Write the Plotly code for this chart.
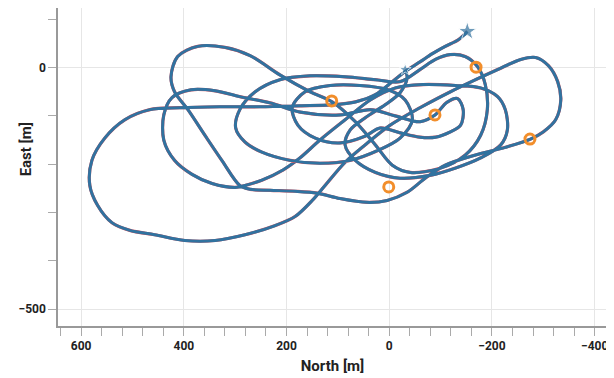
import plotly.graph_objects as go

# Trajectory (North, East) in metres
north = [-152, -135, -109, -84, -60, -31, -6, 27, 66, 111, 174, 252, 330, 408, 466, 515, 554, 579, 583, 568,
         540, 505, 457, 398, 339, 281, 222, 183, 150, 125, 86, 47, -2, -60, -119, -168, -211, -256, -285, -310,
         -328, -334, -324, -300, -275, -226, -168, -109, -70, -35, 4, 43, 96, 140, 183, 232, 271, 291, 326, 359,
         392, 418, 425, 412, 373, 320, 271, 213, 154, 111, 66, 27, -6, -41, -100, -148, -178, -191, -187, -172,
         -148, -119, -90, -60, -21, 27, 86, 154, 213, 261, 291, 299, 281, 248, 193, 135, 76, 21, -21, -45,
         -31, 2, 57, 115, 164, 189, 178, 144, 96, 47, 18, -21, -60, -90, -119, -139, -144, -133, -112, -89,
         -60, -12, 37, 96, 174, 232, 291, 339, 386, 423, 439, 439, 418, 384, 345, 300, 281, 248, 207, 174, 135,
         86, 37, -12, -66, -129, -178, -211, -226, -230, -217, -178, -129, -80, -21, 27, 66, 86, 76, 47, 8,
         -21, -35, -31]
east = [75, 58, 44, 29, 12, -8, -29, -56, -71, -77, -79, -81, -81, -83, -87, -108, -146, -192, -244, -285,
        -321, -337, -346, -358, -358, -346, -327, -308, -275, -244, -196, -160, -119, -83, -50, -25, -4, 17, 21, 4,
        -29, -67, -108, -133, -148, -165, -181, -202, -229, -258, -275, -279, -271, -260, -256, -254, -252, -244, -192, -140,
        -87, -50, -19, 23, 44, 42, 25, -15, -50, -71, -112, -160, -202, -217, -208, -181, -140, -87, -35, 2,
        23, 27, 17, -4, -29, -25, -19, -17, -25, -50, -87, -125, -154, -175, -192, -198, -192, -171, -146, -108,
        -67, -46, -37, -37, -50, -83, -119, -146, -156, -142, -125, -135, -144, -144, -133, -119, -87, -64, -72, -98,
        -112, -100, -87, -98, -92, -73, -60, -48, -46, -62, -98, -150, -192, -221, -240, -248, -244, -233, -212, -187, -150,
        -108, -67, -42, -35, -37, -42, -60, -87, -129, -160, -187, -208, -223, -229, -217, -192, -160, -129, -104, -77,
        -52, -21, -4]

# Waypoints
wp_north = [112, -89, -169, -274, 1]
wp_east = [-69, -98, 1, -148, -247]

fig = go.Figure()

fig.add_trace(go.Scatter(x=north, y=east, mode="lines",
                         line=dict(color="#d9545c", width=3.2, shape="spline", smoothing=0.9),
                         hoverinfo="skip", showlegend=False))
fig.add_trace(go.Scatter(x=north, y=east, mode="lines",
                         line=dict(color="#31729f", width=3, shape="spline", smoothing=0.9),
                         showlegend=False))
fig.add_trace(go.Scatter(x=[north[0], north[-1]], y=[east[0], east[-1]], mode="markers",
                         marker=dict(symbol="star", size=[14, 9], color="#31729f"),
                         showlegend=False))
fig.add_trace(go.Scatter(x=wp_north, y=wp_east, mode="markers",
                         marker=dict(symbol="circle-open", size=10, color="#f28e2b",
                                     line=dict(width=3, color="#f28e2b")),
                         showlegend=False))

axis_font = dict(family="Roboto", size=12, color="#222", weight="bold")
title_font = dict(family="Roboto", size=15, color="#222", weight="bold")

# The page adds an 8px body margin, so the figure is sized to fit the window
fig.update_layout(
    width=606, height=370,
    margin=dict(l=50, r=7, t=0, b=52),
    paper_bgcolor="white", plot_bgcolor="white",
    xaxis=dict(range=[645, -424], tick0=0, dtick=200, ticks="outside", ticklen=8,
               tickcolor="#aaa", showline=True, linecolor="#999", linewidth=1.5,
               gridcolor="#e6e6e6", zeroline=False, tickfont=axis_font, automargin=False,
               minor=dict(dtick=40, tick0=0, ticks="outside", ticklen=8, tickcolor="#aaa", showgrid=False),
               title=dict(text="North [m]", font=title_font, standoff=8)),
    yaxis=dict(range=[-535, 123.5], tick0=0, dtick=500, ticks="outside", ticklen=8,
               tickcolor="#aaa", showline=True, linecolor="#999", linewidth=1.5,
               gridcolor="#e6e6e6", zeroline=False, tickfont=axis_font, automargin=False,
               minor=dict(dtick=100, tick0=0, ticks="outside", ticklen=8, tickcolor="#aaa", showgrid=False)),
    annotations=[dict(text="East [m]", font=title_font, textangle=-90, showarrow=False,
                      xref="paper", yref="paper", x=-0.058, y=0.556,
                      xanchor="center", yanchor="middle")],
    shapes=[dict(type="line", xref="paper", yref="paper", x0=1, x1=1, y0=0, y1=1,
                 line=dict(color="#cfcfcf", width=1.5))],
)

fig.write_html("out.html")
